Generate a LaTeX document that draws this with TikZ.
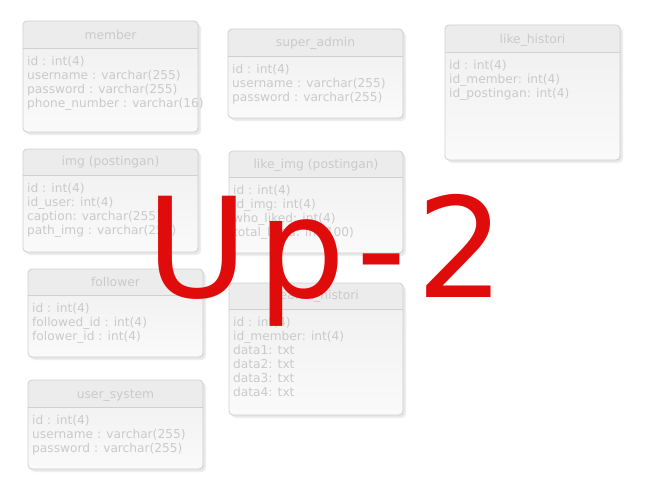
\documentclass[tikz,border=0pt]{standalone}
\usepackage{fontspec}
\setmainfont{DejaVu Sans}
\newfontfamily\redfont[LetterSpace=7.3]{DejaVu Sans}
\definecolor{boxline}{HTML}{D0D0D0}
\definecolor{boxhead}{HTML}{ECECEC}
\definecolor{boxtop}{HTML}{EFEFEF}
\definecolor{boxbot}{HTML}{FAFAFA}
\definecolor{txtgray}{HTML}{CACACA}
\definecolor{shadowgray}{HTML}{E4E4E4}
\definecolor{bigred}{RGB}{224,12,12}
\tikzset{
  entshadow/.style={fill=shadowgray, rounded corners=4pt},
  entbody/.style={top color=boxtop, bottom color=boxbot, rounded corners=4pt},
  entborder/.style={draw=boxline, line width=0.8pt, rounded corners=4pt},
  entsep/.style={draw=boxline, line width=0.8pt},
  enttitle/.style={font=\fontsize{12.3}{14}\selectfont, text=txtgray, inner sep=0pt, anchor=base},
  entattr/.style={font=\fontsize{12.2}{14}\selectfont, text=txtgray, inner sep=0pt, anchor=base west},
  bigmark/.style={font=\redfont\fontsize{139}{150}\selectfont, text=bigred, inner sep=0pt, anchor=base west}
}
% #1 id, #2 x1, #3 y1, #4 x2, #5 y2, #6 sep y, #7 title center y, #8 title, #9 lines
\newcommand\drawentity[9]{%
  \fill[entshadow, opacity=0.6] (#2+3,#3+3) rectangle (#4+3,#5+3);
  \fill[entshadow, opacity=0.8] (#2+1.5,#3+1.5) rectangle (#4+1.5,#5+1.5);
  \shade[entbody] (#2,#3) rectangle (#4,#5);
  \begin{scope}
    \clip[rounded corners=4pt] (#2,#3) rectangle (#4,#5);
    \fill[boxhead] (#2,#3) rectangle (#4,#6);
  \end{scope}
  \draw[entborder] (#2,#3) rectangle (#4,#5);
  \draw[entsep] (#2,#6) -- (#4,#6);
  \node[enttitle] (#1-title) at ({(#2+#4)/2},#7+4.5) {#8};
  \foreach \l [count=\i] in {#9} {
    \node[entattr] (#1-\i) at (#2+4,{#6+12+5+(\i-1)*14}) {\l};
  }
}
\begin{document}
\begin{tikzpicture}[x=1pt,y=-1pt]
\useasboundingbox[fill=white] (0,0) rectangle (671,503);
\drawentity{member}{23}{21}{198}{132}{48.5}{35}{member}
  {id : int(4),username : varchar(255),password : varchar(255),phone\_number : varchar(16)}
\drawentity{superadmin}{228}{29}{403}{118}{56.5}{42}{super\_admin}
  {id : int(4),username : varchar(255),password : varchar(255)}
\drawentity{likehistori}{445}{25}{620}{160}{52}{39}{like\_histori}
  {id : int(4),id\_member: int(4),id\_postingan: int(4)}
\drawentity{img}{23}{149}{198}{252}{175.5}{161}{img (postingan)}
  {id : int(4),id\_user: int(4),caption: varchar(255),path\_img : varchar(255)}
\drawentity{likeimg}{229}{151}{403}{253}{177}{164}{like\_img (postingan)}
  {id : int(4),id\_img: int(4),who\_liked: int(4),total\_liked: int(100)}
\drawentity{follower}{28}{269}{203}{357}{295}{282}{follower}
  {id : int(4),followed\_id : int(4),folower\_id : int(4)}
\drawentity{search}{229}{283}{403}{415}{309}{295}{search\_histori}
  {id : int(4),id\_member: int(4),data1: txt,data2: txt,data3: txt,data4: txt}
\drawentity{usersystem}{28}{380}{203}{469}{407}{394}{user\_system}
  {id : int(4),username : varchar(255),password : varchar(255)}
\node[bigmark] (stamp) at (146,297) {Up-2};
\end{tikzpicture}
\end{document}
